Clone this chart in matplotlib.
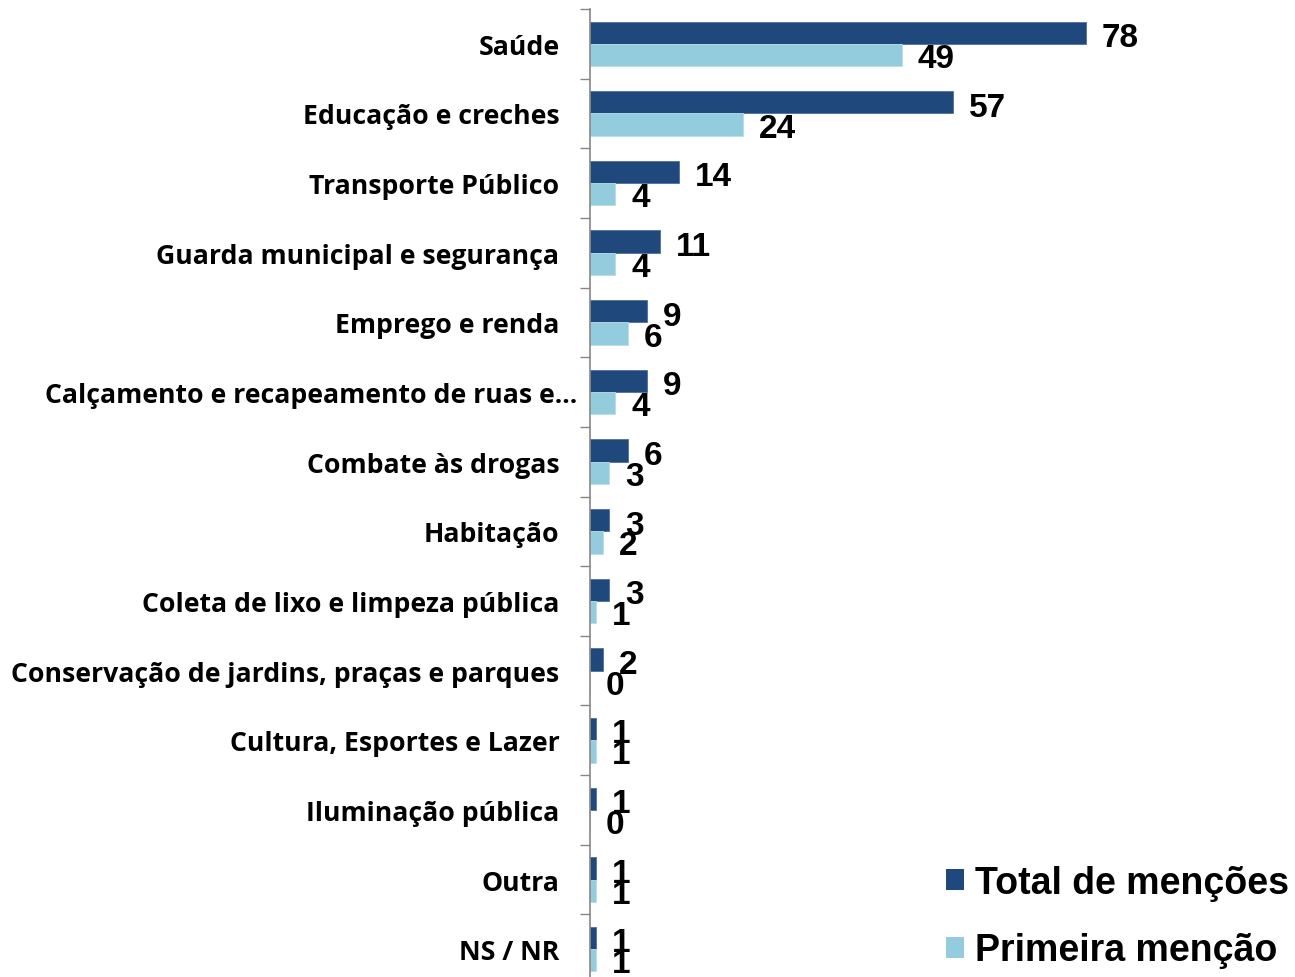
import numpy as np
import matplotlib
matplotlib.use('Agg')
import matplotlib.pyplot as plt
import matplotlib.transforms as mtransforms
from matplotlib.patches import Patch
from matplotlib import font_manager as fm

categories = ['Saúde', 'Educação e creches', 'Transporte Público',
              'Guarda municipal e segurança', 'Emprego e renda',
              'Calçamento e recapeamento de ruas e...', 'Combate às drogas',
              'Habitação', 'Coleta de lixo e limpeza pública',
              'Conservação de jardins, praças e parques',
              'Cultura, Esportes e Lazer', 'Iluminação pública', 'Outra', 'NS / NR']
total_mencoes = [78, 57, 14, 11, 9, 9, 6, 3, 3, 2, 1, 1, 1, 1]
primeira_mencao = [49, 24, 4, 4, 6, 4, 3, 2, 1, 0, 1, 0, 1, 1]
series_names = ['Total de menções', 'Primeira menção']

dark = '#1F497D'
light = '#93CDDD'

# bold sans for the category labels (stand-in for Calibri bold)
cat_family = 'DejaVu Sans'
for fam in ['Open Sans', 'Noto Sans', 'Lato', 'Roboto']:
    try:
        path = fm.findfont(fm.FontProperties(family=fam, weight='bold'), fallback_to_default=False)
        if '-bold.' in path.lower():
            cat_family = fam
            break
    except Exception:
        pass

W, H = 1295, 978
fig = plt.figure(figsize=(W / 100, H / 100), dpi=100)
ax = fig.add_axes([590 / W, 1 - 985 / H, 636 / W, 975 / H])

n = len(categories)
y = np.arange(n)
bh = 0.32
ax.barh(y - bh / 2, total_mencoes, height=bh, color=dark, edgecolor='#4F6F9A', linewidth=0.6)
ax.barh(y + bh / 2, primeira_mencao, height=bh, color=light, edgecolor='#B7DDE8', linewidth=0.6)

ax.set_xlim(0, 100)
ax.set_ylim(n - 0.5, -0.5)

vfont = dict(family='Liberation Sans', weight='bold', size=24)
off = 16 / 6.36
for i in range(n):
    ax.text(total_mencoes[i] + off, y[i] - bh / 2 + 0.07, str(total_mencoes[i]),
            va='center', ha='left', **vfont)
    ax.text(primeira_mencao[i] + off, y[i] + bh / 2 + 0.05, str(primeira_mencao[i]),
            va='center', ha='left', **vfont)

# size the category labels so the widest regular one is about 548 px wide
renderer = fig.canvas.get_renderer()
probe = fig.text(0, 0, categories[9], family=cat_family, weight='bold', fontsize=20)
wpx = probe.get_window_extent(renderer).width
probe.remove()
cat_size = min(20 * 548 / wpx, 20)

ax.set_yticks(y)
ax.set_yticklabels(categories, family=cat_family, weight='bold', fontsize=cat_size)
ax.tick_params(axis='y', which='major', length=0, pad=22)
ax.set_yticks(np.arange(-0.5, n, 1), minor=True)
ax.tick_params(axis='y', which='minor', length=7, width=1, color='#868686', direction='out')
ax.set_xticks([])

# the truncated label sticks out further to the right in the original
lbl = ax.get_yticklabels()[5]
lbl.set_transform(lbl.get_transform() + mtransforms.ScaledTranslation(0.18, 0, fig.dpi_scale_trans))

for s in ['top', 'right', 'bottom']:
    ax.spines[s].set_visible(False)
ax.spines['left'].set_color('#868686')
ax.spines['left'].set_linewidth(1.2)

handles = [Patch(facecolor=dark), Patch(facecolor=light)]
fig.legend(handles, series_names, loc='lower right', bbox_to_anchor=(1.0, 0.003),
           frameon=False, prop=dict(family='Liberation Sans', weight='bold', size=27),
           handlelength=0.48, handleheight=0.48, handletextpad=0.3, labelspacing=0.85,
           borderaxespad=0.0, borderpad=0.15)

fig.savefig('out.png', dpi=100)
